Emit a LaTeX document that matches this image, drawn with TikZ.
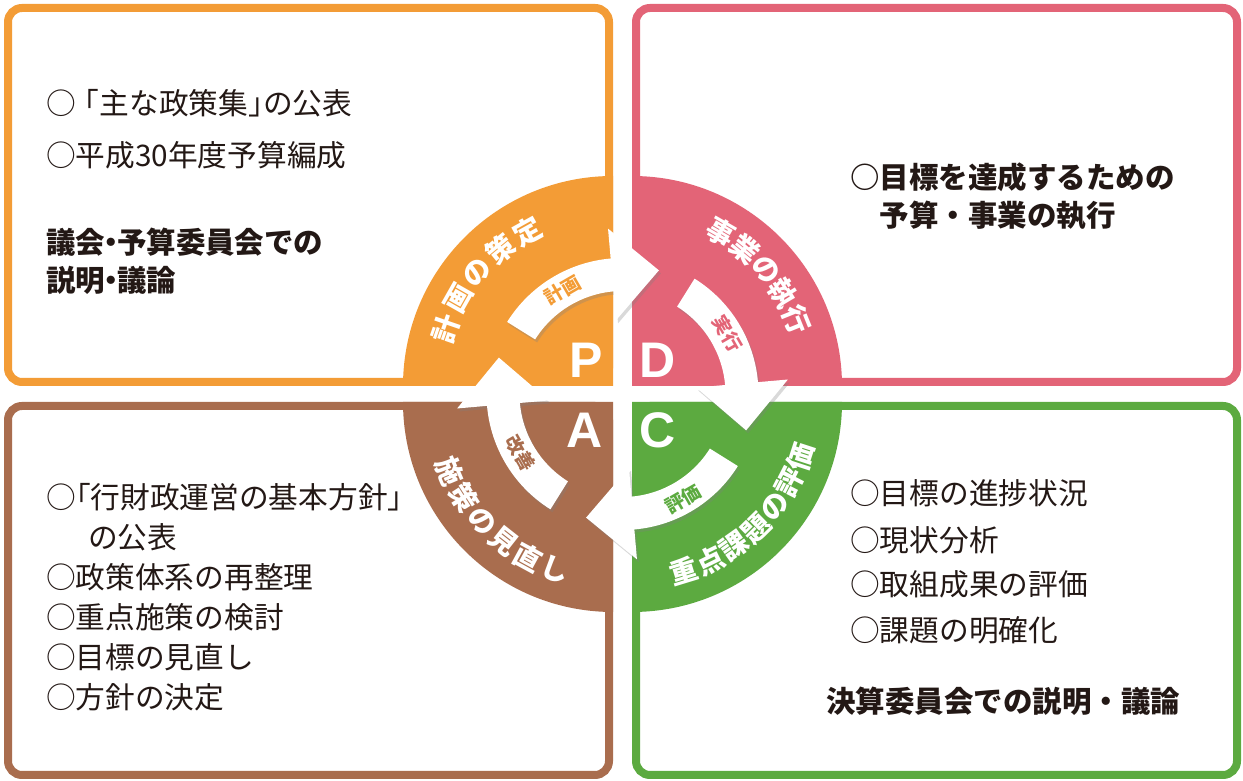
\documentclass[tikz,border=0pt]{standalone}
\usepackage{fontspec}
\setmainfont{Liberation Sans}
\newfontfamily\jp{Noto Sans CJK JP}
\usetikzlibrary{shadows}
\definecolor{planC}{HTML}{F39C36}
\definecolor{doC}{HTML}{E36477}
\definecolor{checkC}{HTML}{5CAA40}
\definecolor{actC}{HTML}{A96D4E}
\definecolor{ink}{HTML}{231815}
% half-width brackets and middle dot
\def\LB{\kern-.5em「}
\def\RB{」\kern-.5em}
\def\MD{\kern-.3em・\kern-.3em}
% one white cycle arrow, turned about the centre
\def\CYC#1{\begin{scope}[rotate=#1]
  \fill[white,drop shadow={opacity=.3,shadow xshift=2pt,shadow yshift=-3pt}]
    (148:136) arc[start angle=148,end angle=95,radius=136] -- (95:166) -- (73.6:128.9)
    -- (95:74) -- (95:103) arc[start angle=95,end angle=148,radius=103] -- cycle;
  \end{scope}}
\tikzset{
  box/.style={draw=#1,line width=8pt,rounded corners=14pt,fill=white},
  item/.style={anchor=base west,inner sep=0pt,text=ink,font=\jp\fontsize{#1}{#1}\selectfont},
  bitem/.style={anchor=base west,inner sep=0pt,text=ink,font=\jp\bfseries\fontsize{#1}{#1}\selectfont},
  qlbl/.style={text=white,inner sep=0pt,font=\jp\bfseries\fontsize{28}{28}\selectfont},
  albl/.style={text=#1,inner sep=0pt,font=\jp\bfseries\fontsize{19}{19}\selectfont},
  pdca/.style={text=white,inner sep=0pt,font=\bfseries\fontsize{50}{50}\selectfont}
}
\begin{document}
\begin{tikzpicture}[x=1pt,y=1pt]
\useasboundingbox (0,0) rectangle (1243,781);
% the four boxes
\draw[box=planC] (8,399) rectangle (609,773);
\draw[box=doC] (636,399) rectangle (1237,773);
\draw[box=checkC] (636,6) rectangle (1237,375);
\draw[box=actC] (8,6) rectangle (609,375);

% box texts
\node[item=29.7] (p1) at (46,666.7) {○\kern.3em\LB 主な政策集\RB の公表};
\node[item=29.7] (p2) at (46,614.7) {○平成30年度予算編成};
\node[bitem=29.5] (p3) at (46,527.8) {議会\MD 予算委員会での};
\node[bitem=29.5] (p4) at (46,489.8) {説明\MD 議論};

\node[bitem=29.5] (d1) at (850,592.8) {○目標を達成するための};
\node[bitem=29.5] (d2) at (879.5,554.8) {予算・事業の執行};

\node[item=29.7] (c1) at (850,276.7) {○目標の進捗状況};
\node[item=29.7] (c2) at (850,229.7) {○現状分析};
\node[item=29.7] (c3) at (850,185.7) {○取組成果の評価};
\node[item=29.7] (c4) at (850,139.7) {○課題の明確化};
\node[bitem=29.5] (c5) at (826,68.8) {決算委員会での説明・議論};

\node[item=29.7] (a1) at (46,272.7) {○\LB 行財政運営の基本方針」};
\node[item=29.7] (a2) at (88,232.7) {の公表};
\node[item=29.7] (a3) at (46,192.7) {○政策体系の再整理};
\node[item=29.7] (a4) at (46,152.7) {○重点施策の検討};
\node[item=29.7] (a5) at (46,112.7) {○目標の見直し};
\node[item=29.7] (a6) at (46,72.7) {○方針の決定};

\begin{scope}[shift={(622.5,387)}]
  % quarter discs
  \fill[planC] (-9.5,8) -- ++(-210,0) arc[start angle=180,end angle=90,radius=210] -- cycle;
  \fill[doC] (9.5,8) -- ++(0,210) arc[start angle=90,end angle=0,radius=210] -- cycle;
  \fill[checkC] (9.5,-8) -- ++(210,0) arc[start angle=0,end angle=-90,radius=210] -- cycle;
  \fill[actC] (-9.5,-8) -- ++(0,-210) arc[start angle=270,end angle=180,radius=210] -- cycle;

  % curved titles
  \begin{scope}[shift={(-9.5,8)}]
    \foreach \ch [count=\i] in {計,画,の,策,定}
      {\pgfmathsetmacro\a{171.5-10.5*\i}
       \node[qlbl,rotate=\a-90] (plan\i) at (\a:177) {\ch};}
  \end{scope}
  \begin{scope}[shift={(9.5,8)}]
    \foreach \ch [count=\i] in {事,業,の,執,行}
      {\pgfmathsetmacro\a{69.5-9.5*\i}
       \node[qlbl,rotate=\a-90] (do\i) at (\a:177) {\ch};}
  \end{scope}
  \begin{scope}[shift={(9.5,-8)}]
    \foreach \ch [count=\i] in {重,点,課,題,の,評,価}
      {\pgfmathsetmacro\a{-82.2+9.17*\i}
       \node[qlbl,rotate=\a+90] (check\i) at (\a:177) {\ch};}
  \end{scope}
  \begin{scope}[shift={(-9.5,-8)}]
    \foreach \ch [count=\i] in {施,策,の,見,直,し}
      {\pgfmathsetmacro\a{193.4+9.6*\i}
       \node[qlbl,rotate=\a+90] (act\i) at (\a:177) {\ch};}
  \end{scope}

  % cycle arrows
  \CYC{0} \CYC{-90} \CYC{-180} \CYC{-270}
  \node[albl=planC,rotate=30] (lplan) at (120:120) {計画};
  \node[albl=doC,rotate=-60] (ldo) at (30:121) {実行};
  \node[albl=checkC,rotate=30] (lcheck) at (-60:121) {評価};
  \node[albl=actC,rotate=-60] (lact) at (210:118) {改善};

  % letters
  \node[pdca] (P) at (-36.5,34) {P};
  \node[pdca] (D) at (35,34) {D};
  \node[pdca] (A) at (-38,-36) {A};
  \node[pdca] (C) at (35.5,-36) {C};
\end{scope}
\end{tikzpicture}
\end{document}
